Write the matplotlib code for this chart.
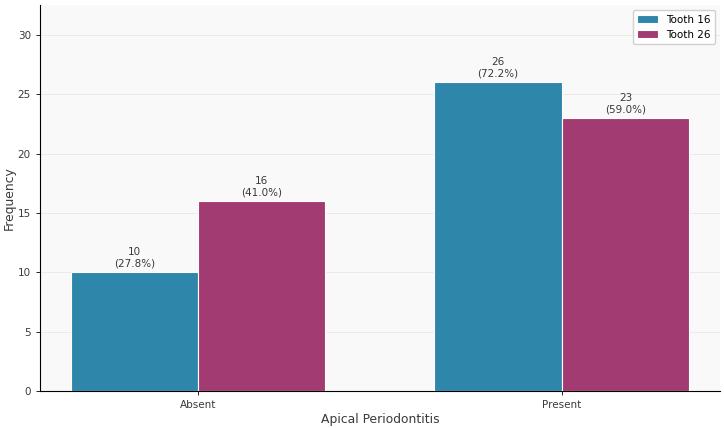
import numpy as np
import matplotlib.pyplot as plt

# Data
categories = ['Absent', 'Present']
tooth16 = [10, 26]
tooth26 = [16, 23]
pct16 = [27.8, 72.2]
pct26 = [41.0, 59.0]

fig, ax = plt.subplots(figsize=(7.24, 4.28), dpi=100)
ax.set_facecolor('#F9F9F9')
fig.patch.set_facecolor('white')

x = np.arange(len(categories))
w = 0.35
b1 = ax.bar(x - w/2, tooth16, w, color='#2E86AB', edgecolor='white', linewidth=0.8, label='Tooth 16', zorder=3)
b2 = ax.bar(x + w/2, tooth26, w, color='#A23B72', edgecolor='white', linewidth=0.8, label='Tooth 26', zorder=3)

for bars, pcts in [(b1, pct16), (b2, pct26)]:
    for rect, p in zip(bars, pcts):
        h = rect.get_height()
        ax.annotate(f'{int(h)}\n({p:.1f}%)', (rect.get_x() + rect.get_width()/2, h),
                    xytext=(0, 2.5), textcoords='offset points', ha='center', va='bottom',
                    fontsize=7.5, color='#3a3a3a')

ax.set_xticks(x)
ax.set_xticklabels(categories, fontsize=7.5, color='#3a3a3a')
ax.tick_params(axis='y', labelsize=7.5, labelcolor='#3a3a3a')
ax.tick_params(length=3, width=0.6)
ax.set_ylim(0, max(tooth16 + tooth26) * 1.25)
ax.set_xlabel('Apical Periodontitis', fontsize=8.9, color='#3a3a3a', labelpad=2)
ax.set_ylabel('Frequency', fontsize=8.9, color='#3a3a3a', labelpad=1)
ax.grid(axis='y', color='#E8E8E8', linewidth=0.6, zorder=0)
ax.set_axisbelow(True)
ax.spines['top'].set_visible(False)
ax.spines['right'].set_visible(False)
ax.legend(fontsize=7.5, loc='upper right', framealpha=0.9)

fig.subplots_adjust(left=0.055, right=0.9945, bottom=0.0864, top=0.988)
plt.savefig('out.png', dpi=100)
